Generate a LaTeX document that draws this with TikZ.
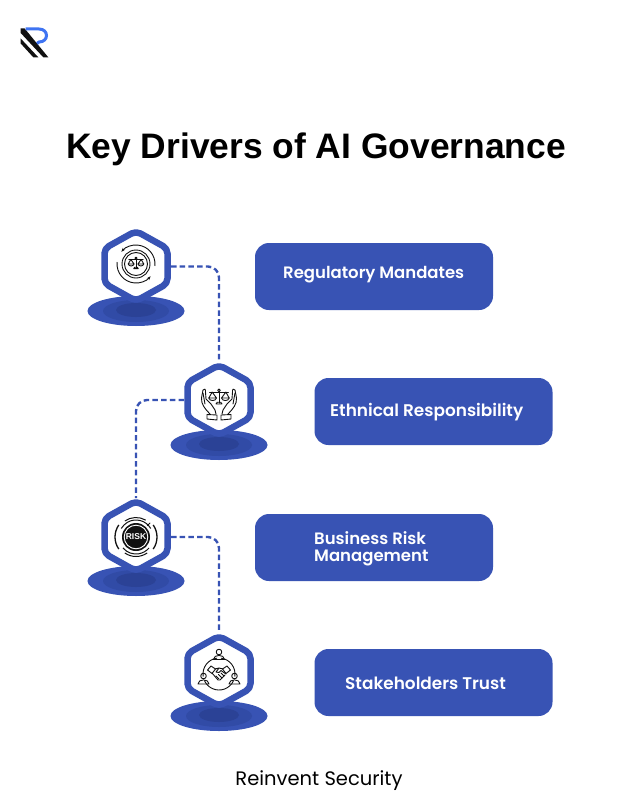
\documentclass[tikz,border=0pt]{standalone}
\usepackage{fontspec}
\setmainfont{Poppins}
\newfontfamily\titlefont{Liberation Sans}[BoldFont={Liberation Sans Bold}]
\newfontfamily\labelfont{Poppins SemiBold}
\usetikzlibrary{arrows.meta}
\definecolor{brand}{HTML}{3853B4}
\definecolor{midb}{HTML}{314BA6}
\definecolor{darkb}{HTML}{2B4296}
\definecolor{logob}{HTML}{3F74F2}
\definecolor{ink}{HTML}{111111}
\tikzset{
 x=1pt,y=-1pt,
 anchorbox/.style={minimum width=70pt,minimum height=78pt,inner sep=0pt,outer sep=0pt},
 labelbox/.style={fill=brand,rounded corners=14pt,minimum width=238pt,minimum height=67pt,inner sep=0pt},
 labeltext/.style={text=white,font=\labelfont\fontsize{16.5}{17}\selectfont,inner sep=0pt,anchor=base west,align=left},
 widertext/.style={labeltext,font=\labelfont\fontsize{16.9}{17}\selectfont},
 link/.style={draw=brand,line width=2.4pt,dash pattern=on 5.5pt off 3.2pt,rounded corners=11pt},
 iconline/.style={draw=ink,line width=0.9pt,fill=none,line cap=round,line join=round},
 ringline/.style={draw=ink,line width=1pt,fill=none,line cap=butt},
 pics/hub/.style={code={
   \fill[brand] (0,45) ellipse [x radius=48.5,y radius=15];
   \fill[midb] (0,45) ellipse [x radius=33,y radius=11];
   \fill[darkb] (0,44) ellipse [x radius=20,y radius=7];
   \filldraw[fill=white,draw=brand,line width=6.5pt,line join=round,rounded corners=5pt]
     (0,-35) -- (31.5,-17.5) -- (31.5,17.5) -- (0,35) -- (-31.5,17.5) -- (-31.5,-17.5) -- cycle;
 }},
 pics/balance/.style={code={
   \begin{scope}[iconline,scale=#1]
   \draw (0,-8) -- (0,6); \draw (-3.5,7) -- (3.5,7) -- (2,5) -- (-2,5) -- cycle;
   \draw (-11,-7) -- (11,-7);
   \draw (0,-9) circle (1.6);
   \draw (-8,-7) -- (-12,0) -- (-3,0) -- cycle;
   \draw (8,-7) -- (3,0) -- (12,0) -- cycle;
   \draw (-12,0) .. controls (-11,4) and (-4,4) .. (-3,0);
   \draw (3,0) .. controls (4,4) and (11,4) .. (12,0);
   \end{scope}
 }},
}
\begin{document}
\begin{tikzpicture}
\useasboundingbox (0,0) rectangle (640,800);
\fill[white] (0,0) rectangle (640,800);
% logo
\fill[ink] (20.7,28.3) -- (24.5,28.3) -- (48.3,57.3) -- (43.3,57.3) -- (20.7,33) -- cycle;
\fill[ink] (20.7,38.5) -- (38.3,57.3) -- (33.3,57.3) -- (20.7,43.5) -- cycle;
\draw[logob,line width=3pt] (25.5,29) -- (39,29) .. controls (49,29) and (49,42) .. (39,42) -- (37,43.5);
% title
\node[inner sep=0pt,anchor=base] (title) at (316,158) {\titlefont\bfseries\fontsize{35.4}{40}\selectfont Key Drivers of AI Governance};
% anchors for hexagons
\node[anchorbox] (h1) at (136,266.5) {};
\node[anchorbox] (h2) at (219,400) {};
\node[anchorbox] (h3) at (136,537) {};
\node[anchorbox] (h4) at (219,671) {};
% connectors
\draw[link] (h1.east) -| (h2.north);
\draw[link] (h2.west) -| (h3.north);
\draw[link] (h3.east) -| (h4.north);
% hubs
\pic at (136,266) {hub};
\pic at (h2.center) {hub};
\pic at (136,536) {hub};
\pic at (h4.center) {hub};
% icon 1
\begin{scope}[shift={(136,264)}]
 \begin{scope}[y=1pt,iconline]
 \draw (0,0) circle (14); \draw (0,0) circle (11.5);
 \draw[-{Stealth[length=4pt]}] (-5:19) arc[start angle=-5,end angle=140,radius=19];
 \draw[-{Stealth[length=4pt]}] (175:19) arc[start angle=175,end angle=320,radius=19];
 \end{scope}
 \pic at (0,0) {balance=0.65};
\end{scope}
% icon 2
\begin{scope}[shift={(219,400)}]
 \pic at (0,-2) {balance=0.85};
 \begin{scope}[iconline]
 \draw (-9,14) .. controls (-14,9) and (-18,4) .. (-17.5,-2) -- (-16,-10) .. controls (-15,-12) and (-13,-11) .. (-13.5,-8) -- (-13,-1) -- (-8,4) -- (-4,10) -- (-3,14);
 \draw (-16,-7) -- (-14,4);
 \draw (-12,14.5) -- (-12,19) -- (-2,20) -- (-2,15) -- cycle;
 \draw (9,14) .. controls (14,9) and (18,4) .. (17.5,-2) -- (16,-10) .. controls (15,-12) and (13,-11) .. (13.5,-8) -- (13,-1) -- (8,4) -- (4,10) -- (3,14);
 \draw (16,-7) -- (14,4);
 \draw (12,14.5) -- (12,19) -- (2,20) -- (2,15) -- cycle;
 \end{scope}
\end{scope}
% icon 3
\begin{scope}[shift={(136,537)}]
 \fill[ink] (0,0) circle (14);
 \draw[white,line width=0.9pt] (0,0) circle (11.8);
 \node[text=white,inner sep=0pt,font=\titlefont\bfseries\fontsize{8.5}{9}\selectfont] (risk) at (0,0) {RISK};
 \begin{scope}[y=1pt,ringline]
 \draw (30:17) arc[start angle=30,end angle=150,radius=17];
 \draw (-140:17) arc[start angle=-140,end angle=-40,radius=17];
 \draw (60:19.5) arc[start angle=60,end angle=125,radius=19.5];
 \draw (235:19.5) arc[start angle=235,end angle=305,radius=19.5];
 \draw[line width=1.3pt] (145:21) arc[start angle=145,end angle=215,radius=21];
 \draw[line width=1.3pt] (-35:21) arc[start angle=-35,end angle=35,radius=21];
 \draw (45:16) -- (45:20);
 \end{scope}
\end{scope}
% icon 4
\begin{scope}[shift={(219,674)}]
 \begin{scope}[y=1pt,iconline]
 \draw (82:16) arc[start angle=82,end angle=-8,radius=16];
 \draw (98:16) arc[start angle=98,end angle=188,radius=16];
 \draw (-25:16) arc[start angle=-25,end angle=-155,radius=16];
 \end{scope}
 \begin{scope}[iconline]
 \draw (0,-22) circle (2.8);
 \draw (-5.5,-14.5) .. controls (-5.5,-20) and (5.5,-20) .. (5.5,-14.5) -- cycle;
 \draw (-15.5,2) circle (2.8);
 \draw (-21,10) .. controls (-21,4.5) and (-10,4.5) .. (-10,10) -- cycle;
 \draw (15.5,2) circle (2.8);
 \draw (21,10) .. controls (21,4.5) and (10,4.5) .. (10,10) -- cycle;
 \draw (-11.5,-4) -- (-8,-8) -- (-3.5,-5) -- (-7,-0.5) -- cycle;
 \draw (11.5,-4) -- (8,-8) -- (3.5,-5) -- (7,-0.5) -- cycle;
 \draw (-4,-5) -- (0,-6) -- (4,-5) (0,-6) -- (-3,-2) -- (0,-1.5) -- (2,-3.5) -- (7,0);
 \draw (-7,-1) -- (-1,6) -- (1,6) -- (6,1);
 \draw (-3,2) -- (0,5) (-0.5,0.5) -- (3,4) (2,-1) -- (5,2);
 \end{scope}
\end{scope}
% label boxes
\node[labelbox] (b1) at (374,276.5) {};
\node[labelbox] (b2) at (433.5,411.5) {};
\node[labelbox] (b3) at (374,547.5) {};
\node[labelbox] (b4) at (433.5,682.5) {};
\node[labeltext] (t1) at (283,278) {Regulatory Mandates};
\node[widertext] (t2) at (330,416) {Ethnical Responsibility};
\node[labeltext] (t3a) at (314,544) {Business Risk};
\node[labeltext] (t3b) at (314,561.5) {Management};
\node[widertext] (t4) at (345,689) {Stakeholders Trust};
% footer
\node[inner sep=0pt,anchor=base] (foot) at (319,785) {\fontsize{19.5}{22}\selectfont Reinvent Security};
\end{tikzpicture}
\end{document}
